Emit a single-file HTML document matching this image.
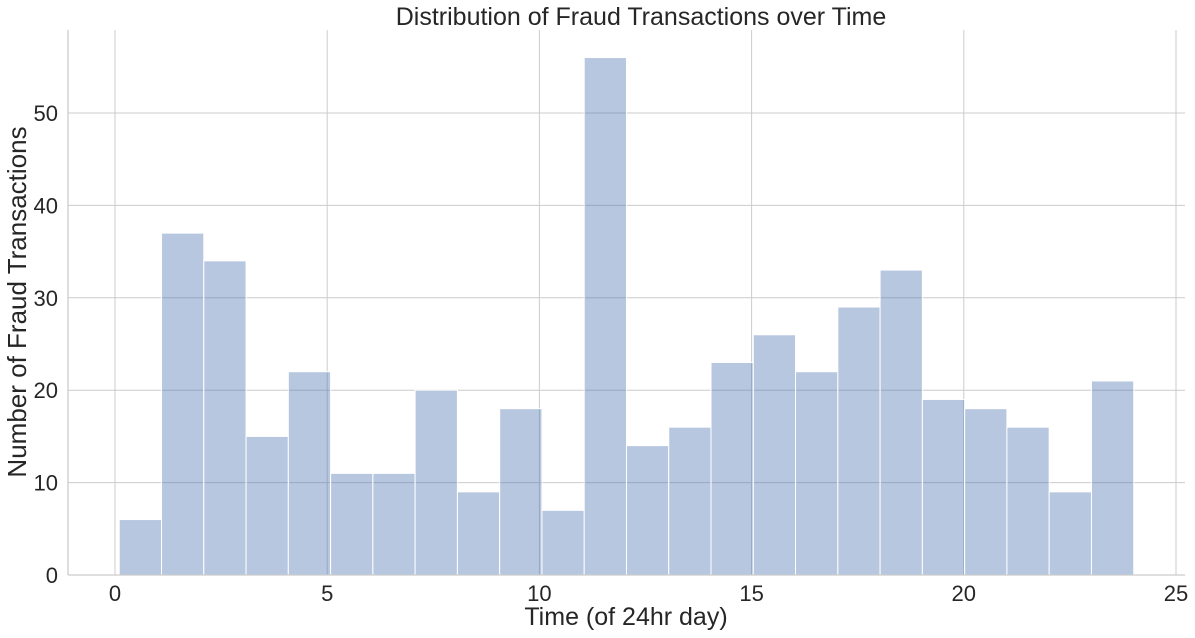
<!DOCTYPE html>
<html><head><meta charset="utf-8"><style>
body{margin:0;background:#fff;}
svg{display:block;font-family:"Liberation Sans",Arial,sans-serif;}
</style></head><body>
<svg id="chart" width="1195" height="638"></svg>
<script>
const binStart = 0.1;
const binWidth = 0.996;
const counts = [6,37,34,15,22,11,11,20,9,18,7,56,14,16,23,26,22,29,33,19,18,16,9,21];
const xTicks = [0,5,10,15,20,25];
const yTicks = [0,10,20,30,40,50];

const svg = document.getElementById('chart');
const NS = 'http://www.w3.org/2000/svg';
const L = 68, R = 1185, T = 30, B = 575;
const xs = v => 115 + v * 42.44;
const ys = v => 575 - v * 9.24;
function mk(tag, attrs, parent){const e=document.createElementNS(NS,tag);for(const k in attrs)e.setAttribute(k,attrs[k]);(parent||svg).appendChild(e);return e;}

xTicks.forEach(t=>{
  const g = mk('line',{x1:xs(t),x2:xs(t),y1:T,y2:B,stroke:'#cccccc','stroke-width':1});
  
  
  const tx = mk('text',{x:xs(t),y:B+26,'text-anchor':'middle','font-size':22,fill:'#262626'});
  tx.textContent=t;
  
  
});
yTicks.forEach(t=>{
  const g = mk('line',{x1:L,x2:R,y1:ys(t),y2:ys(t),stroke:'#cccccc','stroke-width':1});
  
  
  const tx = mk('text',{x:L-10,y:ys(t)+8,'text-anchor':'end','font-size':22,fill:'#262626'});
  tx.textContent=t;
  
  
});
counts.forEach((c,i)=>{
  const x0 = xs(binStart + i*binWidth), x1 = xs(binStart + (i+1)*binWidth);
  const r = mk('rect',{x:x0,y:ys(c),width:x1-x0,height:ys(0)-ys(c),fill:'rgba(76,114,176,0.4)',stroke:'#ffffff','stroke-width':1});
  
  
});
const ax1 = mk('line',{x1:L,x2:L,y1:T,y2:B,stroke:'#cccccc','stroke-width':1.3});


const ax2 = mk('line',{x1:L,x2:R,y1:B,y2:B,stroke:'#cccccc','stroke-width':1.3});



const title = mk('text',{x:641,y:25,'text-anchor':'middle','font-size':25,fill:'#262626'});
title.textContent='Distribution of Fraud Transactions over Time';


const xl = mk('text',{x:626,y:625,'text-anchor':'middle','font-size':25,fill:'#262626'});
xl.textContent='Time (of 24hr day)';


const yl = mk('text',{x:0,y:0,'text-anchor':'middle','font-size':26,fill:'#262626',transform:'translate(26,302) rotate(-90)'});
yl.textContent='Number of Fraud Transactions';


</script>
</body></html>
